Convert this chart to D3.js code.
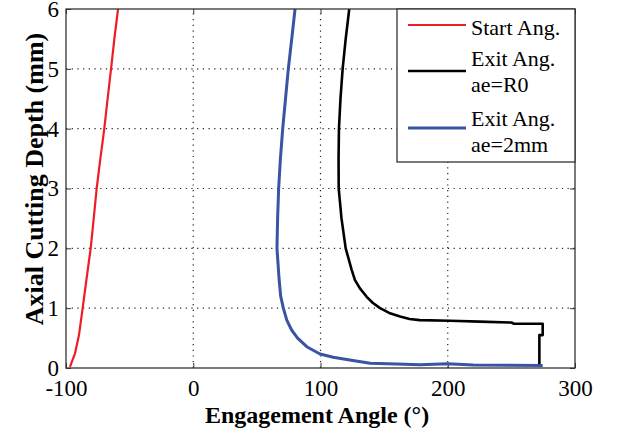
<!DOCTYPE html>
<html>
<head>
<meta charset="utf-8">
<script src="https://cdnjs.cloudflare.com/ajax/libs/d3/7.8.5/d3.min.js"></script>
<style>
  body { margin: 0; background: #fff; }
  text { font-family: "Liberation Serif", "Times New Roman", serif; fill: #000; }
</style>
</head>
<body>
<svg id="chart"></svg>
<script>
// data: [angle (deg), depth (mm)]
const startAng = [
  [-96.9, 0.02], [-92.9, 0.245], [-89.8, 0.55], [-86.9, 1], [-83.8, 1.5],
  [-80.6, 2], [-78.2, 2.5], [-75.9, 3], [-73, 3.5], [-69.9, 4],
  [-67.3, 4.5], [-64.6, 5], [-62, 5.5], [-59.1, 6]
];
const exitR0 = [
  [122.6, 6], [119.8, 5.5], [117.4, 5], [115.7, 4.5], [114.5, 4],
  [114.2, 3.5], [114.3, 3], [116.5, 2.5], [119.8, 2], [124.5, 1.64],
  [127.1, 1.47], [131, 1.33], [136.3, 1.19], [141, 1.09], [146.8, 1],
  [154, 0.92], [162.5, 0.86], [170, 0.82], [178, 0.8], [202, 0.79],
  [225, 0.775], [250, 0.76], [252, 0.74], [274.6, 0.74], [274.6, 0.55],
  [272, 0.55], [272, 0.05]
];
const exit2mm = [
  [80, 6], [77.4, 5.5], [74.7, 5], [72.5, 4.5], [70.3, 4], [68.5, 3.5],
  [67.1, 3], [66.3, 2.5], [65.8, 2], [67.4, 1.5], [68.7, 1.2], [70.8, 1],
  [73.5, 0.8], [77.3, 0.635], [82, 0.5], [89.2, 0.356], [99.6, 0.234],
  [110, 0.18], [123, 0.134], [139, 0.08], [160, 0.065], [178, 0.055],
  [200, 0.07], [220, 0.05], [274.6, 0.04]
];
const xTicks = [-100, 0, 100, 200, 300];
const yTicks = [0, 1, 2, 3, 4, 5, 6];
const series = [
  { name: ["Start Ang."], data: startAng, color: "#ee1c25", width: 2.2 },
  { name: ["Exit Ang.", "ae=R0"], data: exitR0, color: "#000000", width: 2.6 },
  { name: ["Exit Ang.", "ae=2mm"], data: exit2mm, color: "#3a53a4", width: 3 }
];

const width = 617, height = 436;
const margin = { top: 9, right: 42, bottom: 68, left: 66 };

const svg = d3.select("#chart").attr("width", width).attr("height", height);

const x = d3.scaleLinear().domain([-100, 300]).range([margin.left, width - margin.right]);
const y = d3.scaleLinear().domain([0, 6]).range([height - margin.bottom, margin.top]);

// dotted grid
const grid = svg.append("g")
  .attr("stroke", "#222")
  .attr("stroke-width", 1.2)
  .attr("stroke-dasharray", "1.2,4.5");
grid.selectAll(".gx").data(xTicks.slice(1, -1)).enter().append("line")
  .attr("x1", d => x(d)).attr("x2", d => x(d))
  .attr("y1", y(0)).attr("y2", y(6));
grid.selectAll(".gy").data(yTicks.slice(1, -1)).enter().append("line")
  .attr("x1", x(-100)).attr("x2", x(300))
  .attr("y1", d => y(d)).attr("y2", d => y(d));

// axes, ticks inward
const tickStyle = g => {
  g.select(".domain").remove();
  g.selectAll(".tick line").attr("stroke", "#333");
};
const plain = d => String(d);
svg.append("g")
  .attr("transform", `translate(0,${y(0)})`)
  .call(d3.axisBottom(x).tickValues(xTicks).tickFormat(plain).tickSize(-5).tickPadding(12))
  .call(tickStyle)
  .call(g => g.selectAll("text").attr("font-size", 23).attr("font-family", "Liberation Serif"));
svg.append("g")
  .attr("transform", `translate(0,${y(6)})`)
  .call(d3.axisTop(x).tickValues(xTicks).tickSize(-5).tickFormat(""))
  .call(tickStyle);
svg.append("g")
  .attr("transform", `translate(${x(-100)},0)`)
  .call(d3.axisLeft(y).tickValues(yTicks).tickFormat(plain).tickSize(-5).tickPadding(7))
  .call(tickStyle)
  .call(g => g.selectAll("text").attr("font-size", 23).attr("font-family", "Liberation Serif"));
svg.append("g")
  .attr("transform", `translate(${x(300)},0)`)
  .call(d3.axisRight(y).tickValues(yTicks).tickSize(-5).tickFormat(""))
  .call(tickStyle);

// curves
const line = d3.line().x(d => x(d[0])).y(d => y(d[1]));
svg.append("g").selectAll("path").data(series).enter().append("path")
  .attr("d", d => line(d.data))
  .attr("fill", "none")
  .attr("stroke", d => d.color)
  .attr("stroke-width", d => d.width)
  .attr("stroke-linejoin", "round");

// frame
svg.append("rect")
  .attr("x", x(-100)).attr("y", y(6))
  .attr("width", x(300) - x(-100)).attr("height", y(0) - y(6))
  .attr("fill", "none").attr("stroke", "#333").attr("stroke-width", 1.3);

// legend
const legend = svg.append("g");
legend.append("rect")
  .attr("x", 397).attr("y", y(6))
  .attr("width", x(300) - 397).attr("height", 153)
  .attr("fill", "#fff").attr("stroke", "#333").attr("stroke-width", 1.3);
const rows = [25, 71, 128];
const textY = [[35], [66, 92], [126, 152]];
series.forEach((s, i) => {
  legend.append("line")
    .attr("x1", 408).attr("x2", 466)
    .attr("y1", rows[i]).attr("y2", rows[i])
    .attr("stroke", s.color).attr("stroke-width", s.width);
  s.name.forEach((t, j) => {
    legend.append("text")
      .attr("x", 471).attr("y", textY[i][j])
      .attr("font-size", 22)
      .text(t);
  });
});

// axis titles
svg.append("text")
  .attr("x", 317).attr("y", 423)
  .attr("text-anchor", "middle")
  .attr("font-size", 24).attr("font-weight", "bold")
  .text("Engagement Angle (°)");
svg.append("text")
  .attr("transform", "translate(43,179) rotate(-90)")
  .attr("text-anchor", "middle")
  .attr("font-size", 26).attr("font-weight", "bold")
  .text("Axial Cutting Depth (mm)");
</script>
</body>
</html>
